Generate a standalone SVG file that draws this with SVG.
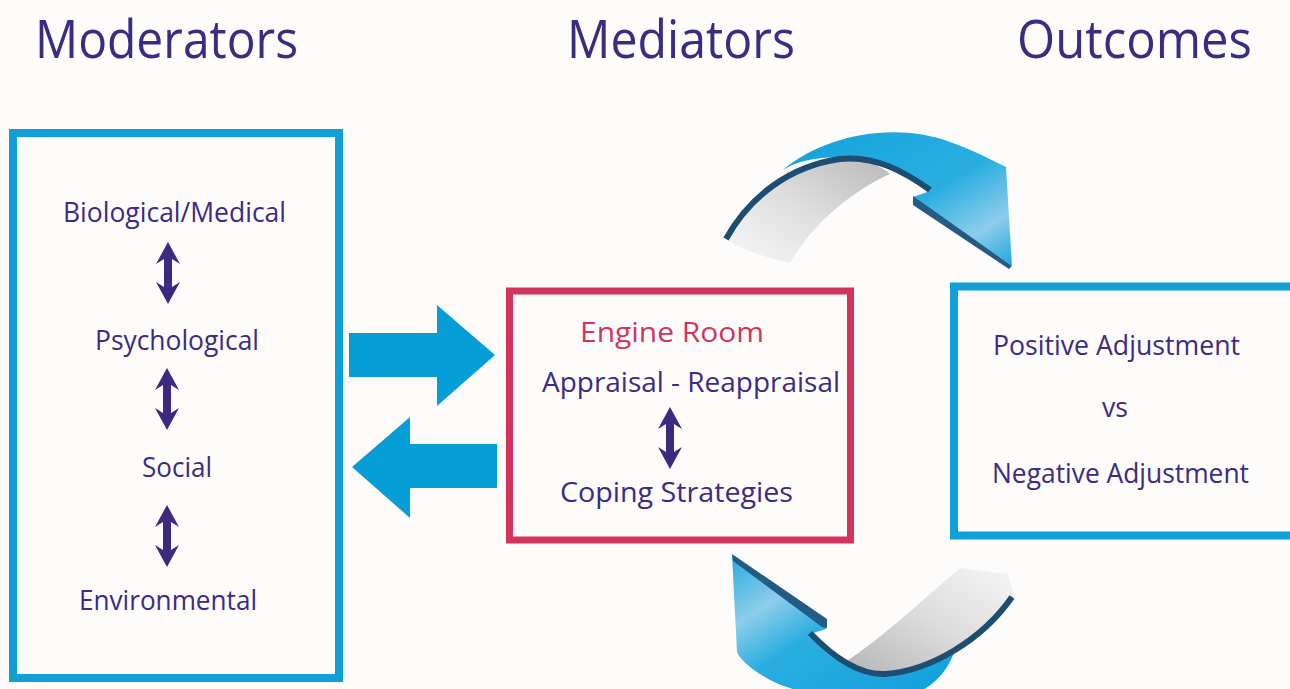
<svg xmlns="http://www.w3.org/2000/svg" width="1290" height="689" viewBox="0 0 1290 689">
  <defs>
    <style>
      .title { font-family: "Open Sans", "Liberation Sans", sans-serif; font-size: 53px; fill: #3a2b83; }
      .lbl { font-family: "Open Sans", "Liberation Sans", sans-serif; font-size: 27px; fill: #3a2b83; }
      .red { fill: #d2345d; }
      .bluebox { fill: none; stroke: #10a0d8; stroke-width: 8; }
      .redbox { fill: none; stroke: #d2345d; stroke-width: 7; }
      .flat { fill: #079dd6; }
      .dbl { fill: #3b2a80; }
      .edge { fill: none; stroke: #1d4e72; stroke-width: 6; stroke-linecap: butt; }
      .side { fill: #245b84; }
    </style>
    <path id="dbl" d="M0 0 L12 22 L4 17 L4 45 L12 40 L0 62 L-12 40 L-4 45 L-4 17 L-12 22 Z"/>
    <linearGradient id="blueTop" x1="0" y1="0" x2="1" y2="1">
      <stop offset="0" stop-color="#13a3dc"/>
      <stop offset="0.55" stop-color="#2aaee0"/>
      <stop offset="0.8" stop-color="#8ccdeb"/>
      <stop offset="1" stop-color="#1fa6dc"/>
    </linearGradient>
    <linearGradient id="blueBot" x1="0" y1="0" x2="1" y2="1">
      <stop offset="0" stop-color="#28aadf"/>
      <stop offset="0.25" stop-color="#8dcdeb"/>
      <stop offset="0.45" stop-color="#2aaee0"/>
      <stop offset="1" stop-color="#0f9fda"/>
    </linearGradient>
    <linearGradient id="greyTop" x1="1" y1="0" x2="0" y2="1">
      <stop offset="0" stop-color="#b9b9b9"/>
      <stop offset="0.5" stop-color="#dedede"/>
      <stop offset="1" stop-color="#f8f8f8"/>
    </linearGradient>
    <linearGradient id="greyBot" x1="0" y1="1" x2="1" y2="0">
      <stop offset="0" stop-color="#b5b5b5"/>
      <stop offset="0.5" stop-color="#dcdcdc"/>
      <stop offset="1" stop-color="#f6f6f6"/>
    </linearGradient>
  </defs>

  <rect width="1290" height="689" fill="#fdfcfa"/>

  <g id="titles">
    <text class="title" x="35" y="58" textLength="263" lengthAdjust="spacingAndGlyphs">Moderators</text>
    <text class="title" x="567" y="58" textLength="228" lengthAdjust="spacingAndGlyphs">Mediators</text>
    <text class="title" x="1017" y="58" textLength="235" lengthAdjust="spacingAndGlyphs">Outcomes</text>
  </g>

  <g id="moderators">
    <rect class="bluebox" x="13" y="133" width="326" height="545"/>
    <text class="lbl" x="63" y="222" textLength="223" lengthAdjust="spacingAndGlyphs">Biological/Medical</text>
    <use href="#dbl" class="dbl" transform="translate(168 242)"/>
    <text class="lbl" x="95" y="350" textLength="164" lengthAdjust="spacingAndGlyphs">Psychological</text>
    <use href="#dbl" class="dbl" transform="translate(167 368)"/>
    <text class="lbl" x="142" y="477" textLength="70" lengthAdjust="spacingAndGlyphs">Social</text>
    <use href="#dbl" class="dbl" transform="translate(167 505)"/>
    <text class="lbl" x="79" y="610" textLength="178" lengthAdjust="spacingAndGlyphs">Environmental</text>
  </g>

  <g id="mediators">
    <rect class="redbox" x="509.5" y="291" width="341" height="249"/>
    <text class="lbl red" x="580" y="342" textLength="184" lengthAdjust="spacingAndGlyphs">Engine Room</text>
    <text class="lbl" x="542" y="392" textLength="298" lengthAdjust="spacingAndGlyphs">Appraisal - Reappraisal</text>
    <use href="#dbl" class="dbl" transform="translate(670 407)"/>
    <text class="lbl" x="560" y="502" textLength="233" lengthAdjust="spacingAndGlyphs">Coping Strategies</text>
  </g>

  <g id="outcomes">
    <rect class="bluebox" x="954" y="286.5" width="350" height="249"/>
    <text class="lbl" x="993" y="355" textLength="247" lengthAdjust="spacingAndGlyphs">Positive Adjustment</text>
    <text class="lbl" x="1102" y="417" textLength="26" lengthAdjust="spacingAndGlyphs">vs</text>
    <text class="lbl" x="992" y="483" textLength="257" lengthAdjust="spacingAndGlyphs">Negative Adjustment</text>
  </g>

  <g id="connectors">
    <path class="flat" d="M349 333 L437 333 L437 305 L495 355 L437 406 L437 377 L349 377 Z"/>
    <path class="flat" d="M497 444 L410 444 L410 417 L352 467 L410 518 L410 488 L497 488 Z"/>

    <g id="curve-top">
      <path fill="url(#greyTop)" d="M727 240 C750 198 792 167 840 160 C862 158 878 164 890 174 C850 192 812 225 790 263 C768 258 745 251 727 240 Z"/>
      <path fill="url(#blueTop)" d="M783 170 C820 138 890 120 950 142 C975 151 992 160 1006 167 L1012 266 L913 197 L930 191 C905 172 872 158 840 157 C815 157 795 162 783 170 Z"/>
      <path class="edge" d="M726 239 C750 196 790 166 840 159 C875 155 905 172 930 190"/>
      <path class="side" d="M913 196 L1012 266 L1009 269 L913 205 Z"/>
    </g>

    <g id="curve-bottom">
      <path fill="url(#greyBot)" d="M845 662 C880 640 920 602 960 568 L1008 574 L1014 596 C985 640 930 672 885 674 C868 674 855 669 845 662 Z"/>
      <path fill="url(#blueBot)" d="M732 555 L826 622 L826 629 L810 634 C835 660 860 676 885 675 C920 673 940 662 955 650 C945 680 920 700 880 700 C840 700 800 695 770 680 C752 670 740 660 737 652 Z"/>
      <path class="edge" d="M810 633 C835 659 860 675 885 674 C930 671 982 640 1012 597"/>
      <path class="side" d="M732 554 L827 619 L827 628 L822 627 L733 561 Z"/>
    </g>
  </g>
</svg>
